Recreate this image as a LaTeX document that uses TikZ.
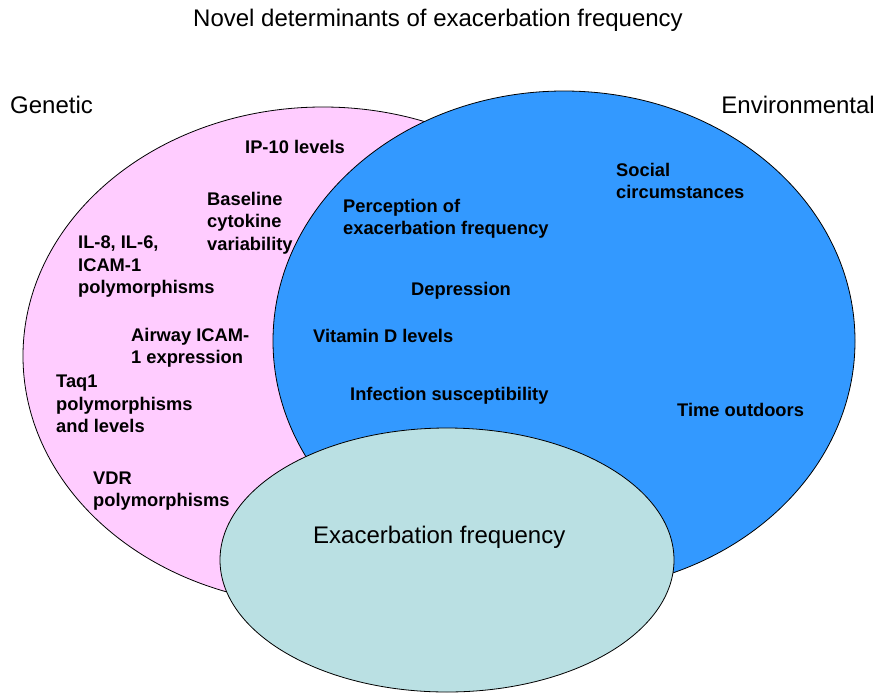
\documentclass[tikz,border=0pt]{standalone}
\usepackage{fontspec}
\setmainfont{Liberation Sans}
\definecolor{rosa}{HTML}{FFCCFF}
\definecolor{azul}{HTML}{3399FF}
\definecolor{turquesa}{HTML}{BAE0E3}

\begin{document}
\begin{tikzpicture}[x=1pt,y=-1pt,
  rotulo/.style={font=\fontsize{24}{28}\selectfont,inner sep=0},
  fator/.style={font=\fontsize{18.3}{22.5}\selectfont\bfseries,align=left,anchor=west,inner sep=0}]
\useasboundingbox(0,0)rectangle(877,693);
% os tres conjuntos
\draw[fill=rosa,line width=.8pt](323,356)ellipse[x radius=300,y radius=249];
\draw[fill=azul,line width=.8pt](564,341)ellipse[x radius=291,y radius=250];
\draw[fill=turquesa,line width=.8pt](447,560)ellipse[x radius=227,y radius=132];
% titulos
\node[rotulo](titulo)at(438,20){Novel determinants of exacerbation frequency};
\node[rotulo,anchor=west](genetico)at(10,105){Genetic};
\node[rotulo,anchor=east](ambiental)at(875,105){Environmental};
\node[rotulo,anchor=west](frequencia)at(313,537){Exacerbation frequency};
% fatores geneticos
\node[fator](ip)at(245,147){IP-10 levels};
\node[fator](basal)at(207,223){Baseline\\cytokine\\variability};
\node[fator](il)at(78,267){IL-8, IL-6,\\ICAM-1\\polymorphisms};
\node[fator](icam)at(131,348){Airway ICAM-\\1 expression};
\node[fator](taq)at(56,404){Taq1\\polymorphisms\\and levels};
\node[fator](vdr)at(93,491){VDR\\polymorphisms};
% fatores ambientais
\node[fator](social)at(616,181){Social\\circumstances};
\node[fator](percepcao)at(343,219){Perception of\\exacerbation frequency};
\node[fator](depressao)at(411,291){Depression};
\node[fator](vitd)at(313,336){Vitamin D levels};
\node[fator](infeccao)at(350,396){Infection susceptibility};
\node[fator](tempo)at(677,410){Time outdoors};
\end{tikzpicture}
\end{document}
